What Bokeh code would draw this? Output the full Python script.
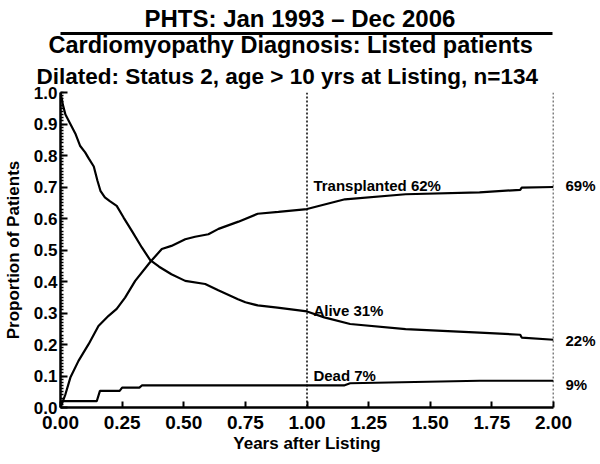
from bokeh.plotting import figure
from bokeh.models import Range1d, FixedTicker, Label, Span, LinearAxis, Title
from bokeh.embed import file_html
from bokeh.resources import INLINE

# ---------------- data ----------------
alive_t = [0.0, 0.01, 0.02, 0.04, 0.06, 0.08, 0.10, 0.115, 0.135, 0.15, 0.162, 0.18, 0.20,
           0.228, 0.256, 0.29, 0.33, 0.364, 0.40, 0.45, 0.506, 0.587, 0.64, 0.72, 0.75,
           0.80, 0.88, 1.00, 1.07, 1.175, 1.40, 1.70, 1.865, 1.871, 2.00]
alive_p = [1.00, 0.96, 0.93, 0.90, 0.87, 0.83, 0.81, 0.79, 0.765, 0.72, 0.688, 0.667, 0.655,
           0.64, 0.603, 0.56, 0.508, 0.468, 0.447, 0.423, 0.402, 0.392, 0.372, 0.344, 0.334,
           0.324, 0.317, 0.305, 0.286, 0.265, 0.249, 0.238, 0.231, 0.222, 0.215]

trans_t = [0.0, 0.02, 0.04, 0.073, 0.114, 0.154, 0.195, 0.228, 0.262, 0.303, 0.364, 0.411,
           0.45, 0.506, 0.546, 0.60, 0.641, 0.722, 0.80, 0.884, 1.00, 1.154, 1.40, 1.70,
           1.865, 1.871, 2.00]
trans_p = [0.0, 0.042, 0.095, 0.148, 0.201, 0.259, 0.291, 0.313, 0.349, 0.402, 0.462, 0.503,
           0.513, 0.534, 0.542, 0.55, 0.567, 0.59, 0.615, 0.621, 0.63, 0.661, 0.677, 0.683,
           0.691, 0.698, 0.70]

dead_t = [0.0, 0.005, 0.147, 0.16, 0.24, 0.25, 0.32, 0.33, 1.15, 1.175, 1.70, 2.00]
dead_p = [0.0, 0.02, 0.02, 0.053, 0.053, 0.063, 0.063, 0.07, 0.07, 0.077, 0.085, 0.085]

x_ticks = [0.0, 0.25, 0.5, 0.75, 1.0, 1.25, 1.5, 1.75, 2.0]
x_tick_labels = ["0.00", "0.25", "0.50", "0.75", "1.00", "1.25", "1.50", "1.75", "2.00"]
y_ticks = [0.0, 0.1, 0.2, 0.3, 0.4, 0.5, 0.6, 0.7, 0.8, 0.9, 1.0]
y_tick_labels = ["0.0", "0.1", "0.2", "0.3", "0.4", "0.5", "0.6", "0.7", "0.8", "0.9", "1.0"]

milestones = [1.0, 2.0]
series_labels = ["Transplanted 62%", "Alive 31%", "Dead 7%"]
end_labels = ["69%", "22%", "9%"]

title_lines = ["PHTS: Jan 1993 \u2013 Dec 2006",
               "Cardiomyopathy Diagnosis: Listed patients",
               "Dilated: Status 2, age > 10 yrs at Listing, n=134"]

FONT = "Liberation Sans"

# ---------------- figure ----------------
p = figure(frame_width=493, frame_height=315, output_backend="svg", toolbar_location=None,
           x_range=Range1d(0, 2), y_range=Range1d(0, 1),
           min_border_left=54, min_border_right=37, min_border_top=87, min_border_bottom=46)
p.outline_line_color = None
p.grid.visible = False
p.background_fill_color = "white"
p.border_fill_color = "white"


def bold(obj, prefix, size):
    pre = prefix + "_" if prefix else ""
    setattr(obj, pre + "text_font", FONT)
    setattr(obj, pre + "text_font_style", "bold")
    setattr(obj, pre + "text_font_size", size)
    setattr(obj, pre + "text_color", "black")


xa = p.xaxis[0]
xa.ticker = FixedTicker(ticks=x_ticks)
xa.major_label_overrides = dict(zip(x_ticks, x_tick_labels))
xa.major_tick_in = 6
xa.major_tick_out = 0
xa.minor_tick_in = 0
xa.minor_tick_out = 0
xa.axis_line_width = 2.5
xa.major_tick_line_width = 2
bold(xa, "major_label", "19px")
xa.major_label_standoff = 8
xa.axis_label = "Years after Listing"
bold(xa, "axis_label", "17px")
xa.axis_label_standoff = 2

ya = p.yaxis[0]
ya.ticker = FixedTicker(ticks=y_ticks, minor_ticks=[i / 100 for i in range(101)])
ya.major_label_overrides = dict(zip(y_ticks, y_tick_labels))
ya.major_tick_in = 7
ya.major_tick_out = 0
ya.minor_tick_in = 3
ya.minor_tick_out = 0
ya.axis_line_width = 2.5
ya.major_tick_line_width = 2
ya.minor_tick_line_width = 1.5
bold(ya, "major_label", "17px")
ya.major_label_standoff = 3
ya.axis_label = "Proportion of Patients"
bold(ya, "axis_label", "17px")
ya.axis_label_standoff = 8

# right-hand end-of-follow-up labels as an axis without line/ticks
end_label_y = [0.705, 0.214, 0.073]
ra = LinearAxis(ticker=FixedTicker(ticks=end_label_y),
                major_label_overrides=dict(zip(end_label_y, end_labels)))
ra.axis_line_color = None
ra.major_tick_line_color = None
ra.minor_tick_line_color = None
bold(ra, "major_label", "15px")
ra.major_label_standoff = 6
p.add_layout(ra, "right")

# milestone dotted lines
for m in milestones:
    p.add_layout(Span(location=m, dimension="height", line_color="black",
                      line_width=1.5, line_dash="2 2"))

# curves
p.line(alive_t, alive_p, line_color="black", line_width=2.2)
p.line(trans_t, trans_p, line_color="black", line_width=2.2)
p.line(dead_t, dead_p, line_color="black", line_width=2.2)

# curve labels
lab_pos = [(1.026, 0.705), (1.026, 0.308), (1.026, 0.102)]
for txt, (x, y) in zip(series_labels, lab_pos):
    p.add_layout(Label(x=x, y=y, text=txt, text_font=FONT, text_font_style="bold",
                       text_font_size="15px", text_color="black",
                       text_baseline="alphabetic", text_align="left"))

# titles (stacked above the frame: first added is nearest)
t3 = Title(text=title_lines[2], align="left", offset=-24, standoff=8)
bold(t3, "", "22.5px")
t2 = Title(text=title_lines[1], align="left", offset=-12, standoff=-4, vertical_align="top")
bold(t2, "", "23.5px")
t1 = Title(text=title_lines[0], align="left", offset=84, standoff=4)
bold(t1, "", "24px")
# horizontal rule under the main title: an unlabeled axis between the title panels
rule = LinearAxis(ticker=FixedTicker(ticks=[]), bounds=(-0.081, 1.996))
rule.axis_line_width = 3
rule.major_tick_in = 0
rule.major_tick_out = 0
rule.minor_tick_in = 0
rule.minor_tick_out = 0
rule.major_label_text_font_size = "0px"
rule.major_label_standoff = 0
p.add_layout(t3, "above")
p.add_layout(t2, "above")
p.add_layout(rule, "above")
p.add_layout(t1, "above")

open("out.html", "w").write(file_html(p, INLINE))
